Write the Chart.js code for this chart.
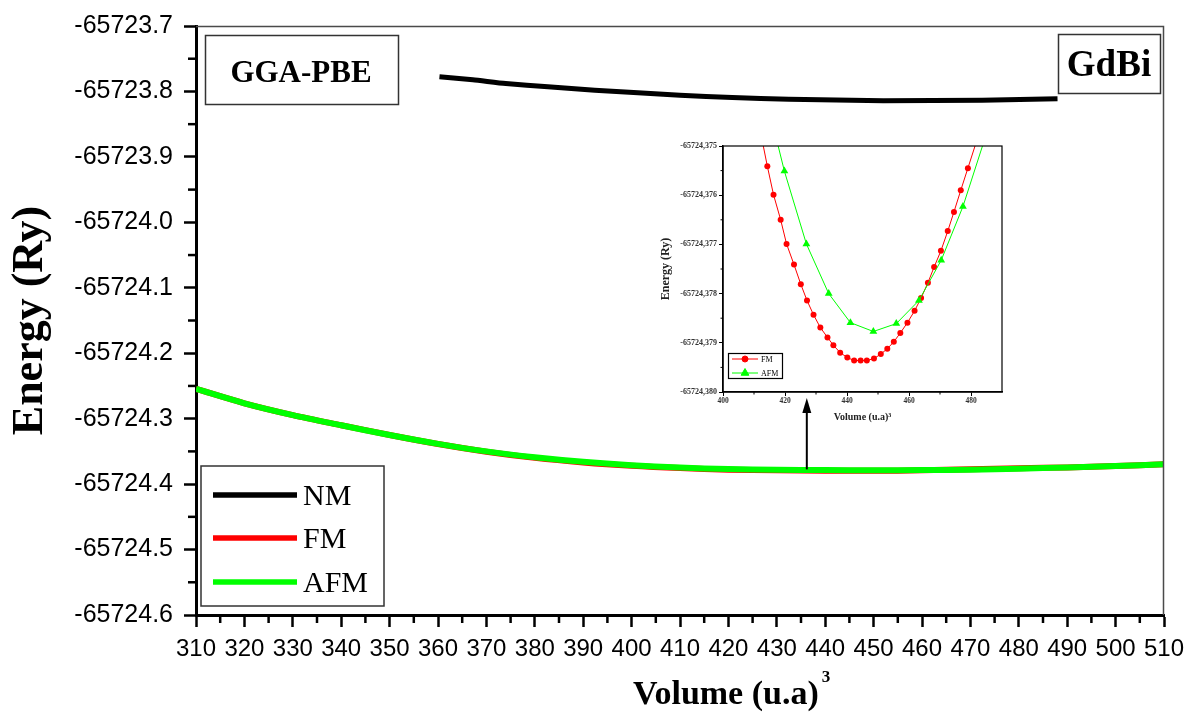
<!DOCTYPE html>
<html><head><meta charset="utf-8">
<script src="https://cdn.jsdelivr.net/npm/chart.js@4.4.1/dist/chart.umd.min.js"></script>
<style>
html,body{margin:0;padding:0;background:#fff;}
#wrap{position:relative;width:1195px;height:720px;overflow:hidden;}
#main{position:absolute;left:0;top:0;}
#inset{position:absolute;left:640px;top:135px;}
</style></head><body>
<div id="wrap">
<canvas id="main" width="1195" height="720"></canvas>
<canvas id="inset" width="372" height="295"></canvas>
</div>
<script>
// ---------- main chart data ----------
const xTicks = [310,320,330,340,350,360,370,380,390,400,410,420,430,440,450,460,470,480,490,500,510];
const xTickLabels = ['310','320','330','340','350','360','370','380','390','400','410','420','430','440','450','460','470','480','490','500','510'];
const yTicks = [-65724.6,-65724.5,-65724.4,-65724.3,-65724.2,-65724.1,-65724.0,-65723.9,-65723.8,-65723.7];
const yTickLabels = ['-65724.6','-65724.5','-65724.4','-65724.3','-65724.2','-65724.1','-65724.0','-65723.9','-65723.8','-65723.7'];

const nmVolume = [360.3,367.2,374.0,382.7,392.4,401.3,410.0,420.8,432.5,452.0,472.4,488.0];
const nmEnergy = [-65723.7777,-65723.7823,-65723.7880,-65723.7930,-65723.7980,-65723.8020,-65723.8057,-65723.8093,-65723.8118,-65723.8143,-65723.8133,-65723.8110];

const mVolume = [310,320,330,340,350,360,370,380,390,400,410,420,430,440,450,460,470,480,490,500,510];
const fmEnergy = [-65724.2545,-65724.2765,-65724.2945,-65724.3100,-65724.3250,-65724.3388,-65724.3505,-65724.3599,-65724.3669,-65724.3720,-65724.3755,-65724.3779,-65724.3790,-65724.3794,-65724.3796,-65724.3790,-65724.3772,-65724.3756,-65724.3745,-65724.3725,-65724.3695];
const afmEnergy = [-65724.2545,-65724.2765,-65724.2945,-65724.3100,-65724.3250,-65724.3385,-65724.3500,-65724.3590,-65724.3660,-65724.3712,-65724.3748,-65724.3770,-65724.3780,-65724.3785,-65724.3788,-65724.3786,-65724.3782,-65724.3765,-65724.3745,-65724.3725,-65724.3695];

const arrowVolume = 436.2;
const arrowFrom = -65724.3775;
const arrowTo = -65724.2686;

// ---------- inset data ----------
const insetXTicks = [400,420,440,460,480];
const insetXTickLabels = ['400','420','440','460','480'];
const insetYTicks = [-65724.380,-65724.379,-65724.378,-65724.377,-65724.376,-65724.375];
const insetYTickLabels = ['-65724,380','-65724,379','-65724,378','-65724,377','-65724,376','-65724,375'];

const insetFmVolume = [413.0,414.3,416.3,418.6,420.5,422.9,425.1,427.1,429.2,431.4,433.7,435.6,437.8,440.1,442.3,444.4,446.4,448.7,450.9,453.0,455.1,457.2,459.5,461.8,463.9,466.1,468.1,470.3,472.5,474.5,476.7,479.0,481.3];
const insetFmEnergy = [-65724.37500,-65724.37541,-65724.37599,-65724.37650,-65724.37699,-65724.37741,-65724.37781,-65724.37814,-65724.37843,-65724.37869,-65724.37889,-65724.37905,-65724.37920,-65724.37930,-65724.37936,-65724.37936,-65724.37936,-65724.37932,-65724.37923,-65724.37912,-65724.37898,-65724.37880,-65724.37859,-65724.37835,-65724.37809,-65724.37778,-65724.37746,-65724.37713,-65724.37673,-65724.37634,-65724.37590,-65724.37545,-65724.37500];
const insetAfmVolume = [417.8,419.8,426.9,434.1,441.1,448.5,455.9,463.2,470.4,477.4,483.7];
const insetAfmEnergy = [-65724.37500,-65724.37551,-65724.37699,-65724.37800,-65724.37859,-65724.37877,-65724.37861,-65724.37814,-65724.37732,-65724.37623,-65724.37500];

const pts = (xs, ys) => xs.map((v, i) => ({x: v, y: ys[i]}));
const mids = arr => arr.slice(1).map((v, i) => (v + arr[i]) / 2);
const serif = 'Liberation Serif, Times New Roman, serif';
const sans = 'Liberation Sans, Arial, sans-serif';

const mainDecor = {
  id: 'mainDecor',
  afterDraw(chart) {
    const {ctx, chartArea: a, scales: {x, y}} = chart;
    ctx.save();
    // top and right frame
    ctx.strokeStyle = '#4a4a4a'; ctx.lineWidth = 1.5;
    ctx.beginPath(); ctx.moveTo(a.left, a.top + 0.5); ctx.lineTo(a.right - 0.5, a.top + 0.5); ctx.lineTo(a.right - 0.5, a.bottom); ctx.stroke();
    // minor ticks
    ctx.strokeStyle = '#000'; ctx.lineWidth = 2.5;
    mids(xTicks).forEach(v => { const p = x.getPixelForValue(v); ctx.beginPath(); ctx.moveTo(p, a.bottom); ctx.lineTo(p, a.bottom + 8); ctx.stroke(); });
    mids(yTicks).forEach(v => { const p = y.getPixelForValue(v); ctx.beginPath(); ctx.moveTo(a.left, p); ctx.lineTo(a.left - 8, p); ctx.stroke(); });
    // arrow
    const ax = x.getPixelForValue(arrowVolume), ay0 = y.getPixelForValue(arrowFrom), ay1 = y.getPixelForValue(arrowTo);
    ctx.strokeStyle = '#000'; ctx.lineWidth = 2;
    ctx.beginPath(); ctx.moveTo(ax, ay0); ctx.lineTo(ax, ay1 + 12); ctx.stroke();
    ctx.fillStyle = '#000';
    ctx.beginPath(); ctx.moveTo(ax, ay1); ctx.lineTo(ax - 4.5, ay1 + 15); ctx.lineTo(ax + 4.5, ay1 + 15); ctx.closePath(); ctx.fill();
    // label boxes
    ctx.strokeStyle = '#333'; ctx.lineWidth = 1.5;
    ctx.strokeRect(205.5, 35.5, 193, 69);
    ctx.strokeRect(1058.5, 34.5, 102, 59);
    ctx.fillStyle = '#000'; ctx.textAlign = 'center'; ctx.textBaseline = 'alphabetic';
    ctx.font = 'bold 31px ' + serif; ctx.fillText('GGA-PBE', 301, 82);
    ctx.font = 'bold 37px ' + serif; ctx.fillText('GdBi', 1109, 76);
    // legend
    ctx.strokeRect(201, 466, 183, 140);
    const ly = [495, 538, 582];
    ctx.textAlign = 'left'; ctx.font = '30px ' + serif;
    chart.data.datasets.forEach((ds, i) => {
      ctx.strokeStyle = ds.borderColor; ctx.lineWidth = 5.5; ctx.lineCap = 'butt';
      ctx.beginPath(); ctx.moveTo(213, ly[i]); ctx.lineTo(297, ly[i]); ctx.stroke();
      ctx.fillStyle = '#000'; ctx.fillText(ds.label, 303, ly[i] + 10);
    });
    // x-axis title
    ctx.font = 'bold 34px ' + serif; ctx.fillStyle = '#000';
    const t = 'Volume (u.a)';
    ctx.fillText(t, 633, 704);
    const w = ctx.measureText(t).width;
    ctx.font = 'bold 17px ' + serif; ctx.fillText('3', 633 + w + 3, 682);
    ctx.restore();
  }
};

new Chart(document.getElementById('main'), {
  type: 'scatter',
  data: {
    datasets: [
      {label: 'NM', order: 2, data: pts(nmVolume, nmEnergy), showLine: true, borderColor: '#000000', borderWidth: 5, pointRadius: 0, tension: 0.2},
      {label: 'FM', order: 1, data: pts(mVolume, fmEnergy), showLine: true, borderColor: '#ff0000', borderWidth: 6, pointRadius: 0, tension: 0.3},
      {label: 'AFM', order: 0, data: pts(mVolume, afmEnergy), showLine: true, borderColor: '#00ff00', borderWidth: 6, pointRadius: 0, tension: 0.3}
    ]
  },
  options: {
    responsive: false, animation: false, devicePixelRatio: 1,
    layout: {padding: {top: 25, right: 31, left: 0, bottom: 0}},
    plugins: {legend: {display: false}, tooltip: {enabled: false}},
    scales: {
      x: {
        type: 'linear', min: 310, max: 510,
        afterFit: s => { s.height = 105; },
        afterBuildTicks: s => { s.ticks = xTicks.map(v => ({value: v})); },
        ticks: {autoSkip: false, maxRotation: 0, padding: 8, color: '#000', font: {family: sans, size: 24},
          callback: (v, i) => xTickLabels[i]},
        grid: {drawOnChartArea: false, drawTicks: true, tickLength: 12, tickWidth: 2.5, tickColor: '#000'},
        border: {display: true, color: '#000', width: 3}
      },
      y: {
        type: 'linear', min: -65724.6, max: -65723.7,
        afterFit: s => { s.width = 196; },
        afterBuildTicks: s => { s.ticks = yTicks.map(v => ({value: v})); },
        ticks: {autoSkip: false, padding: 11, color: '#000', font: {family: sans, size: 25},
          callback: (v, i) => yTickLabels[i]},
        grid: {drawOnChartArea: false, drawTicks: true, tickLength: 12, tickWidth: 2.5, tickColor: '#000'},
        border: {display: true, color: '#000', width: 3},
        title: {display: true, text: 'Energy (Ry)', color: '#000', font: {family: serif, size: 44, weight: 'bold'}, padding: {top: 4, bottom: 0}}
      }
    }
  },
  plugins: [mainDecor]
});

// ---------- inset ----------
const insetDecor = {
  id: 'insetDecor',
  afterDraw(chart) {
    const {ctx, chartArea: a, scales: {x, y}} = chart;
    const H = Chart.helpers;
    ctx.save();
    ctx.strokeStyle = '#000'; ctx.lineWidth = 1.2;
    ctx.strokeRect(a.left, a.top, a.right - a.left, a.bottom - a.top);
    ctx.lineWidth = 1;
    [410,430,450,470].forEach(v => { const p = x.getPixelForValue(v); ctx.beginPath(); ctx.moveTo(p, a.bottom); ctx.lineTo(p, a.bottom + 2.5); ctx.stroke(); });
    mids(insetYTicks).forEach(v => { const p = y.getPixelForValue(v); ctx.beginPath(); ctx.moveTo(a.left, p); ctx.lineTo(a.left - 2.5, p); ctx.stroke(); });
    // legend
    ctx.lineWidth = 1.2; ctx.strokeStyle = '#000';
    ctx.strokeRect(88.5, 218.5, 54, 25);
    const ly = [224, 238];
    ctx.font = '8px ' + serif; ctx.textBaseline = 'middle';
    chart.data.datasets.forEach((ds, i) => {
      ctx.strokeStyle = ds.borderColor; ctx.lineWidth = 1;
      ctx.beginPath(); ctx.moveTo(92, ly[i]); ctx.lineTo(118, ly[i]); ctx.stroke();
      ctx.fillStyle = ds.backgroundColor;
      H.drawPoint(ctx, {pointStyle: ds.pointStyle, radius: ds.legendRadius, rotation: 0, borderWidth: 1}, 105, ly[i]);
      ctx.fillStyle = '#000'; ctx.fillText(ds.label, 121, ly[i] + 0.5);
    });
    ctx.restore();
  }
};

new Chart(document.getElementById('inset'), {
  type: 'scatter',
  data: {
    datasets: [
      {label: 'FM', order: 1, data: pts(insetFmVolume, insetFmEnergy), showLine: true, borderColor: '#ff0000', backgroundColor: '#ff0000', borderWidth: 1, legendRadius: 3,
        pointStyle: 'circle', pointRadius: insetFmVolume.map((v, i) => (i === 0 || i === insetFmVolume.length - 1) ? 0 : 3), pointBorderWidth: 0},
      {label: 'AFM', order: 0, data: pts(insetAfmVolume, insetAfmEnergy), showLine: true, borderColor: '#00ff00', backgroundColor: '#00ff00', borderWidth: 1, legendRadius: 4.5,
        pointStyle: 'triangle', pointRadius: insetAfmVolume.map((v, i) => (i === 0 || i === insetAfmVolume.length - 1) ? 0 : 4.5), pointBorderWidth: 0}
    ]
  },
  options: {
    responsive: false, animation: false, devicePixelRatio: 1,
    layout: {padding: {top: 11, right: 10, left: 0, bottom: 0}},
    plugins: {legend: {display: false}, tooltip: {enabled: false}},
    scales: {
      x: {
        type: 'linear', min: 400, max: 490,
        afterFit: s => { s.height = 38; },
        afterBuildTicks: s => { s.ticks = insetXTicks.map(v => ({value: v})); },
        ticks: {autoSkip: false, maxRotation: 0, padding: 1, color: '#333', font: {family: serif, size: 7.5, weight: 'bold'},
          callback: (v, i) => insetXTickLabels[i]},
        grid: {drawOnChartArea: false, drawTicks: true, tickLength: 4, tickWidth: 1, tickColor: '#000'},
        border: {display: true, color: '#000', width: 1.5},
        title: {display: true, text: 'Volume (u.a)³', color: '#222', font: {family: serif, size: 10, weight: 'bold'}, padding: {top: 0, bottom: 7}}
      },
      y: {
        type: 'linear', min: -65724.380, max: -65724.375,
        afterFit: s => { s.width = 83; },
        afterBuildTicks: s => { s.ticks = insetYTicks.map(v => ({value: v})); },
        ticks: {autoSkip: false, padding: 2, color: '#333', font: {family: serif, size: 8, weight: 'bold'},
          callback: (v, i) => insetYTickLabels[i]},
        grid: {drawOnChartArea: false, drawTicks: true, tickLength: 4, tickWidth: 1, tickColor: '#000'},
        border: {display: true, color: '#000', width: 1.5},
        title: {display: true, text: 'Energy (Ry)', color: '#222', font: {family: serif, size: 12, weight: 'bold'}, padding: {top: 19, bottom: 0}}
      }
    }
  },
  plugins: [insetDecor]
});
</script>
</body></html>
